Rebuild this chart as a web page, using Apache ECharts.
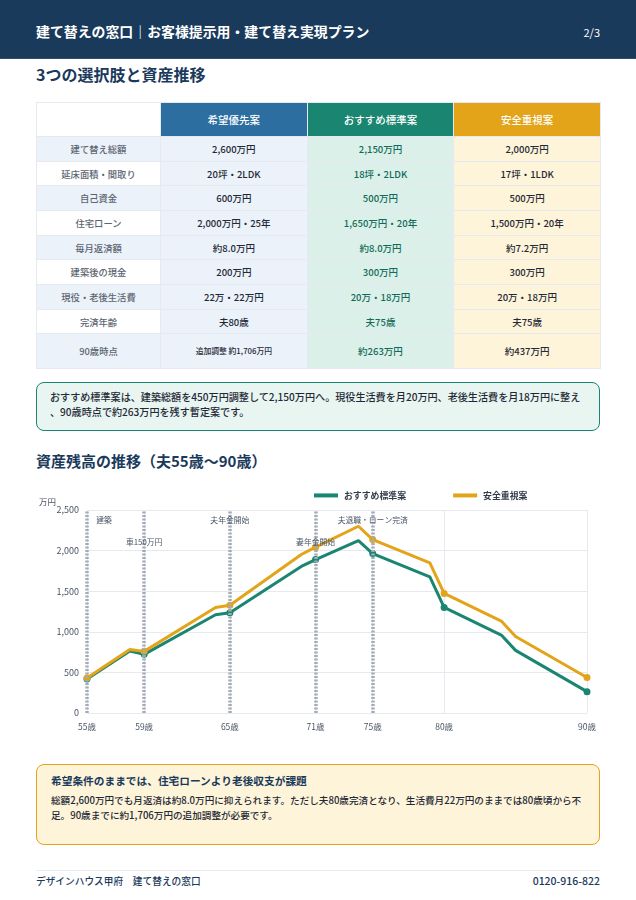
<!DOCTYPE html>
<html lang="ja"><head><meta charset="utf-8">
<script src="https://cdn.jsdelivr.net/npm/echarts@6/dist/echarts.min.js"></script>
<style>
html,body{margin:0;padding:0;background:#fff}
body{width:636px;height:900px;position:relative;overflow:hidden;font-family:"Noto Sans CJK JP","Noto Sans",sans-serif;color:#1f2937}
.a{position:absolute;white-space:nowrap}
#hd{left:0;top:0;width:636px;height:59px;background:#1a3a5c;border-bottom:1px solid #2d5070;box-sizing:border-box}
h1,h2,h3,p{margin:0}
table{position:absolute;left:36px;top:102px;width:563.5px;height:266.5px;border-collapse:collapse;table-layout:fixed;font-size:9.5px;text-align:center;font-weight:500}
td,th{border:1.5px solid #e6eaf0;padding:0;white-space:nowrap}
th{font-size:10.5px;font-weight:500;color:#fff}
.box{position:absolute;left:36px;width:564px;box-sizing:border-box;border-radius:8px}
</style></head><body>
<div id="hd" class="a"></div>
<div class="a" style="left:36px;top:20px;font-size:13.9px;font-weight:700;color:#fff;line-height:22px">建て替えの窓口｜お客様提示用・建て替え実現プラン</div>
<div class="a" style="right:36px;top:23px;font-size:11px;color:#fff;line-height:18px">2/3</div>
<h2 class="a" style="left:36px;top:61.5px;font-size:16px;font-weight:700;color:#1a3a5c;line-height:24px">3つの選択肢と資産推移</h2>
<table id="t"></table>
<div class="box" style="top:382px;height:48.5px;background:#e8f5f0;border:1.5px solid #1a8570;padding:6px 13px;font-size:10.1px;line-height:15px;font-weight:500;white-space:nowrap">おすすめ標準案は、建築総額を450万円調整して2,150万円へ。現役生活費を月20万円、老後生活費を月18万円に整え<br>、90歳時点で約263万円を残す暫定案です。</div>
<h2 class="a" style="left:36px;top:448.5px;font-size:15px;font-weight:700;color:#1a3a5c;line-height:24px">資産残高の推移（夫55歳〜90歳）</h2>
<div id="c" class="a" style="left:0;top:485px;width:636px;height:255px"></div>
<div class="box" style="top:764px;height:81px;background:#fef4d9;border:1.5px solid #e3a41a;padding:7px 14px;white-space:nowrap">
<div style="font-size:10.7px;font-weight:700;color:#1a3a5c;line-height:17px">希望条件のままでは、住宅ローンより老後収支が課題</div>
<div style="font-size:9.6px;font-weight:500;line-height:14.5px;margin-top:4px">総額2,600万円でも月返済は約8.0万円に抑えられます。ただし夫80歳完済となり、生活費月22万円のままでは80歳頃から不<br>足。90歳までに約1,706万円の追加調整が必要です。</div>
</div>
<div class="a" style="left:36px;top:870px;width:564px;border-top:1.5px solid #e8ecf1"></div>
<div class="a" style="left:36px;top:873px;font-size:9.7px;font-weight:500;color:#1a3a5c;line-height:16px">デザインハウス甲府　建て替えの窓口</div>
<div class="a" style="right:36px;top:872px;font-size:10.5px;font-weight:500;color:#1a3a5c;line-height:18px">0120-916-822</div>
<script>
const planNames = ['希望優先案','おすすめ標準案','安全重視案'];
const rowLabels = ['建て替え総額','延床面積・間取り','自己資金','住宅ローン','毎月返済額','建築後の現金','現役・老後生活費','完済年齢','90歳時点'];
const planHope = ['2,600万円','20坪・2LDK','600万円','2,000万円・25年','約8.0万円','200万円','22万・22万円','夫80歳','追加調整 約1,706万円'];
const planStandard = ['2,150万円','18坪・2LDK','500万円','1,650万円・20年','約8.0万円','300万円','20万・18万円','夫75歳','約263万円'];
const planSafe = ['2,000万円','17坪・1LDK','500万円','1,500万円・20年','約7.2万円','300万円','20万・18万円','夫75歳','約437万円'];

const ages = [55,58,59,64,65,70,71,74,75,79,80,84,85,90];
const standardValues = [420,763,722,1210,1235,1805,1890,2124,1964,1677,1300,960,771,263];
const safeValues = [430,783,759,1300,1328,1952,2042,2300,2136,1850,1472,1132,943,437];
const ageTicks = [55,59,65,71,75,80,90];
const eventAges = [55,59,65,71,75];
const eventLabels = ['建築','車150万円','夫年金開始','妻年金開始','夫退職・ローン完済'];
const eventOffsets = [[17,19],[0,41],[0,19],[0,41],[0,19]];

const colors = ['#2c6e9f','#1a8570','#e3a41a'];
let html = '<colgroup><col style="width:124px"><col style="width:146.7px"><col style="width:146.6px"><col style="width:146.7px"></colgroup>';
html += '<tr style="height:34px"><td style="background:#fff"></td>' + planNames.map((n,i)=>`<th style="background:${colors[i]}">${n}</th>`).join('') + '</tr>';
rowLabels.forEach((r,i)=>{
  const last = i===rowLabels.length-1;
  html += `<tr style="height:${last?34:24.6}px"><td style="background:${i%2?'#fff':'#ebf2f9'};color:#5b6572;font-size:9.3px">${r}</td>`
    + `<td style="background:#ebf2f9;${last?'font-size:7.8px':''}">${planHope[i]}</td>`
    + `<td style="background:#dcf0ea;color:#126b58">${planStandard[i]}</td>`
    + `<td style="background:#fef4d9">${planSafe[i]}</td></tr>`;
});
document.getElementById('t').innerHTML = html;

const chart = echarts.init(document.getElementById('c'));
const pts = v => ages.map((a,i)=>[a,v[i]]);
const sym = v => ageTicks.includes(v[0]) ? 'circle' : 'none';
const font = '"Noto Sans CJK JP","Noto Sans",sans-serif';
chart.setOption({
  animation:false,
  textStyle:{fontFamily:font},
  legend:{left:309,top:1,itemWidth:24,itemHeight:4,itemGap:47,icon:'rect',
    textStyle:{fontSize:8.9,fontWeight:700,color:'#333d4a',padding:[0,0,0,1]},
    data:['おすすめ標準案','安全重視案']},
  grid:{left:87,right:49,top:25,height:203},
  xAxis:{type:'value',min:55,max:90,
    axisLine:{show:false},
    axisTick:{show:false,customValues:ageTicks},
    splitLine:{show:true,lineStyle:{color:'#e6eaf0',width:1}},
    axisLabel:{customValues:ageTicks,formatter:v=>v+'歳',fontSize:8.5,color:'#4a5565',margin:10,showMinLabel:true,showMaxLabel:true}},
  yAxis:{type:'value',min:0,max:2500,interval:500,name:'万円',nameLocation:'end',nameGap:4,
    nameTextStyle:{fontSize:8.5,color:'#4a5565',align:'right',padding:[0,31,0,0]},
    axisLine:{show:false},axisTick:{show:false},
    splitLine:{lineStyle:{color:'#e6eaf0',width:1}},
    axisLabel:{formatter:v=>v.toLocaleString('en-US'),fontSize:9,color:'#4a5565',margin:8}},
  series:[
    {name:'おすすめ標準案',type:'line',data:pts(standardValues),symbol:sym,symbolSize:7,showAllSymbol:true,
      lineStyle:{color:colors[1],width:3},itemStyle:{color:colors[1]},z:3},
    {name:'安全重視案',type:'line',data:pts(safeValues),symbol:sym,symbolSize:7,showAllSymbol:true,
      lineStyle:{color:colors[2],width:3},itemStyle:{color:colors[2]},z:4,
      markLine:{silent:true,symbol:'none',precision:0,animation:false,z:6,
        lineStyle:{color:'#a3acb7',width:3.5,type:[2,1.5]},
        data:eventAges.map((a,i)=>({xAxis:a,label:{show:true,position:'end',formatter:eventLabels[i],fontSize:7.8,color:'#4a5565',offset:eventOffsets[i]}}))}}
  ]
});
</script>
</body></html>
